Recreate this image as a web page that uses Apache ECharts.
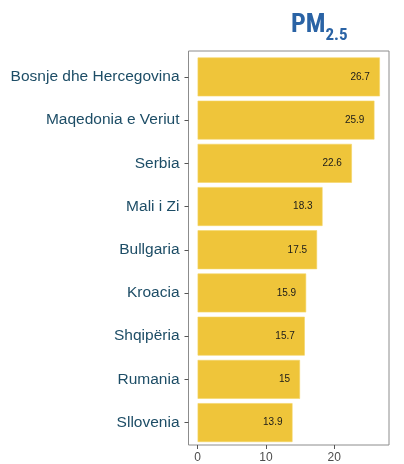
<!DOCTYPE html>
<html><head><meta charset="utf-8">
<script src="https://cdn.jsdelivr.net/npm/echarts@6/dist/echarts.min.js"></script>
<style>html,body{margin:0;padding:0;background:#fff}#c{width:404px;height:464px}</style>
</head><body><div id="c"></div>
<script>
const categories = ["Bosnje dhe Hercegovina","Maqedonia e Veriut","Serbia","Mali i Zi","Bullgaria","Kroacia","Shqipëria","Rumania","Sllovenia"];
const values = [26.7, 25.9, 22.6, 18.3, 17.5, 15.9, 15.7, 15, 13.9];
const xTicks = [0, 10, 20];
const titleMain = "PM";
const titleSub = "2.5";

const xMin = -1.335, xMax = 28.035;
const chart = echarts.init(document.getElementById('c'), null, {renderer:'canvas'});
chart.setOption({
  animation:false,
  title:{
    text:'{a|' + titleMain + '}{b|' + titleSub + '}',
    left:286, top:3,
    textStyle:{rich:{
      a:{fontFamily:'Liberation Sans Narrow, Roboto Condensed, Liberation Sans', fontWeight:'bold', fontSize:26, color:'#2a63a5', verticalAlign:'bottom', lineHeight:30},
      b:{fontFamily:'Liberation Sans Narrow, Roboto Condensed, Liberation Sans', fontWeight:'bold', fontSize:17, color:'#2a63a5', verticalAlign:'bottom', padding:[0,0,-6,0], lineHeight:30}
    }}
  },
  grid:[
    {left:188.5, right:15, top:51, bottom:15.5, show:true, borderColor:'#8c8c8c', borderWidth:1, backgroundColor:'transparent'},
    {left:188.5, right:15, top:55.3, bottom:19.8}
  ],
  xAxis:[
    {type:'value', gridIndex:0, min:xMin, max:xMax, splitLine:{show:false}, axisLine:{show:false, onZero:false},
     axisTick:{show:true, length:4, lineStyle:{color:'#555'}, customValues:xTicks},
     axisLabel:{customValues:xTicks, color:'#4d4d4d', fontSize:12, fontFamily:'Liberation Sans', margin:7}},
    {type:'value', gridIndex:1, min:xMin, max:xMax, show:false, axisLine:{onZero:false}}
  ],
  yAxis:[
    {type:'value', gridIndex:0, show:false, axisLine:{onZero:false}},
    {type:'category', gridIndex:1, data:categories, inverse:true,
     axisLine:{show:false, onZero:false}, axisTick:{show:true, alignWithLabel:true, length:4, lineStyle:{color:'#555'}},
     axisLabel:{color:'#1d4d66', fontSize:15.5, fontFamily:'Liberation Sans', margin:9}}
  ],
  series:[{
    type:'bar', xAxisIndex:1, yAxisIndex:1, data:values, barWidth:'90%',
    itemStyle:{color:'#efc53a', borderColor:'#f5d565', borderWidth:0.6},
    label:{show:true, position:'insideRight', distance:10, color:'#1a1a1a', fontSize:10, fontFamily:'Liberation Sans'}
  }]
});
</script></body></html>
